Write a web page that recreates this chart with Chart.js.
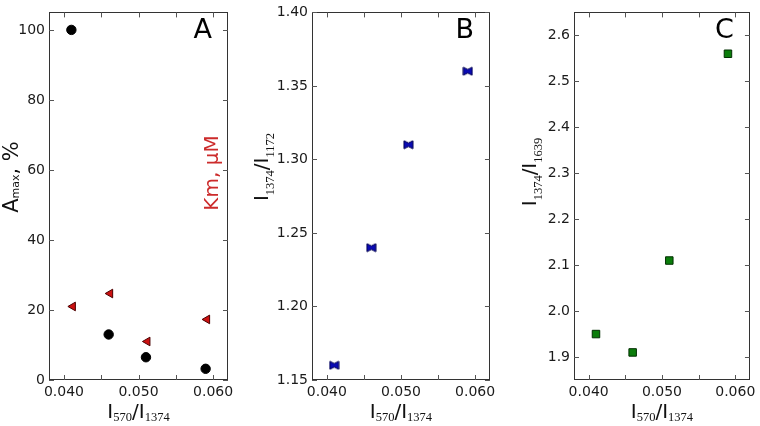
<!DOCTYPE html>
<html>
<head>
<meta charset="utf-8">
<script src="https://cdn.jsdelivr.net/npm/chart.js@4.4.1/dist/chart.umd.min.js"></script>
<style>
  html, body { margin: 0; padding: 0; background: #fff; }
  #wrap { position: relative; width: 760px; height: 426px; }
  canvas { position: absolute; top: 0; }
</style>
</head>
<body>
<div id="wrap">
  <canvas id="panelA" width="250" height="426" style="left:0px"></canvas>
  <canvas id="panelB" width="250" height="426" style="left:250px"></canvas>
  <canvas id="panelC" width="260" height="426" style="left:500px"></canvas>
</div>
<script>
// shared x values (I570/I1374)
var ratioX = [0.041, 0.046, 0.051, 0.059];

// panel A
var amaxVals = [100, 13, 6.5, 3.2];
var kmVals = [21, 24.7, 11, 17.3];
var ticksA = [0, 20, 40, 60, 80, 100];

// panel B
var i1172Vals = [1.16, 1.24, 1.31, 1.36];
var ticksB = [1.15, 1.20, 1.25, 1.30, 1.35, 1.40];

// panel C
var i1639Vals = [1.95, 1.91, 2.11, 2.56];
var ticksC = [1.9, 2.0, 2.1, 2.2, 2.3, 2.4, 2.5, 2.6];

var xTickVals = [0.040, 0.045, 0.050, 0.055, 0.060];

function toPoints(xs, ys) {
  return xs.map(function (x, i) { return { x: x, y: ys[i] }; });
}

var SANS = '"DejaVu Sans", sans-serif';
var SERIF = '"Liberation Serif", "DejaVu Serif", serif';

// little bow-tie marker used in panel B
function bowtie() {
  var c = document.createElement('canvas');
  c.width = 11; c.height = 10;
  var g = c.getContext('2d');
  g.beginPath();
  g.moveTo(1, 1); g.lineTo(5.5, 3.2); g.lineTo(10, 1);
  g.lineTo(10, 9); g.lineTo(5.5, 6.8); g.lineTo(1, 9);
  g.closePath();
  g.fillStyle = '#0a0ab4';
  g.fill();
  g.strokeStyle = '#000050';
  g.lineWidth = 1;
  g.stroke();
  return c;
}

function drawRich(ctx, segs, cx, cy, rot) {
  ctx.save();
  ctx.translate(cx, cy);
  if (rot) ctx.rotate(-Math.PI / 2);
  var total = 0;
  segs.forEach(function (s) { ctx.font = s.font; s.w = ctx.measureText(s.t).width; total += s.w; });
  var x = -total / 2;
  ctx.textAlign = 'left';
  ctx.textBaseline = 'alphabetic';
  segs.forEach(function (s) {
    ctx.font = s.font;
    ctx.fillStyle = s.color || '#111';
    ctx.fillText(s.t, x, s.dy || 0);
    x += s.w;
  });
  ctx.restore();
}

var xTitle = [
  { t: 'I', font: '20px ' + SANS },
  { t: '570', font: '12.5px ' + SERIF, dy: 3 },
  { t: '/', font: '20px ' + SANS },
  { t: 'I', font: '20px ' + SANS },
  { t: '1374', font: '12.5px ' + SERIF, dy: 3 }
];

// frame, inward ticks, titles, panel letter
var decor = {
  id: 'decor',
  afterDraw: function (chart, args, o) {
    var ctx = chart.ctx, ca = chart.chartArea;
    var xs = chart.scales.x, ys = chart.scales.y;
    ctx.save();
    ctx.strokeStyle = '#333';
    ctx.lineWidth = 1;
    ctx.strokeRect(Math.round(ca.left) + 0.5, Math.round(ca.top) + 0.5,
      Math.round(ca.right - ca.left) - 1, Math.round(ca.bottom - ca.top) - 1);
    ctx.strokeStyle = '#555';
    ctx.beginPath();
    xs.ticks.forEach(function (t) {
      var px = Math.round(xs.getPixelForValue(t.value)) + 0.5;
      ctx.moveTo(px, ca.bottom); ctx.lineTo(px, ca.bottom - 5);
      ctx.moveTo(px, ca.top); ctx.lineTo(px, ca.top + 5);
    });
    ys.ticks.forEach(function (t) {
      var py = Math.round(ys.getPixelForValue(t.value)) + 0.5;
      ctx.moveTo(ca.left, py); ctx.lineTo(ca.left + 5, py);
      ctx.moveTo(ca.right, py); ctx.lineTo(ca.right - 5, py);
    });
    ctx.stroke();

    drawRich(ctx, xTitle, (ca.left + ca.right) / 2, 418, false);
    drawRich(ctx, o.yTitle, o.yTitleX, o.yTitleY, true);

    ctx.font = '27px ' + SANS;
    ctx.fillStyle = '#000';
    ctx.textAlign = 'right';
    ctx.textBaseline = 'alphabetic';
    ctx.fillText(o.letter, ca.right - 16, 38);

    if (o.extra) drawRich(ctx, o.extra.segs, o.extra.x, o.extra.y, true);
    ctx.restore();
  }
};

function makeChart(id, datasets, yMin, yMax, yStep, yDigits, area, deco) {
  return new Chart(document.getElementById(id), {
    type: 'scatter',
    data: { datasets: datasets },
    plugins: [decor],
    options: {
      responsive: false,
      animation: false,
      devicePixelRatio: 1,
      layout: { padding: { left: 0, right: area.padRight, top: area.top, bottom: 0 } },
      plugins: { legend: { display: false }, tooltip: { enabled: false }, decor: deco },
      scales: {
        x: {
          type: 'linear', min: 0.038, max: 0.062,
          afterBuildTicks: function (s) { s.ticks = xTickVals.map(function (v) { return { value: v }; }); },
          afterFit: function (s) { s.height = 46; },
          grid: { display: false, drawTicks: false },
          border: { display: false },
          ticks: {
            autoSkip: false, maxRotation: 0, padding: 4, color: '#1a1a1a',
            font: { family: SANS, size: 14 },
            callback: function (v) {
              var k = v * 100;
              return Math.abs(k - Math.round(k)) < 1e-6 ? v.toFixed(3) : '';
            }
          }
        },
        y: {
          type: 'linear', min: yMin, max: yMax,
          afterBuildTicks: function (s) { s.ticks = yStep.map(function (v) { return { value: v }; }); },
          afterFit: function (s) { s.width = area.left; },
          grid: { display: false, drawTicks: false },
          border: { display: false },
          ticks: {
            padding: 4, color: '#1a1a1a',
            font: { family: SANS, size: 14 },
            callback: function (v) { return v.toFixed(yDigits); }
          }
        }
      }
    }
  });
}

makeChart('panelA', [
  {
    data: toPoints(ratioX, amaxVals), pointStyle: 'circle', pointRadius: 4.7,
    backgroundColor: '#000', borderColor: '#000', borderWidth: 1
  },
  {
    data: toPoints(ratioX.map(function (x) { return x + 0.0002; }), kmVals), pointStyle: 'triangle',
    pointRotation: -90, pointRadius: 5, backgroundColor: '#cc1111', borderColor: '#4a0000', borderWidth: 1
  }
], 0, 105, ticksA, 0, { left: 49, padRight: 22, top: 6 }, {
  letter: 'A', yTitleX: 18, yTitleY: 177,
  yTitle: [
    { t: 'A', font: '21px ' + SANS },
    { t: 'max', font: '11px ' + SANS, dy: 1 },
    { t: ', %', font: '21px ' + SANS }
  ],
  extra: { x: 218, y: 173, segs: [{ t: 'Km, \u00b5M', font: '20px ' + SANS, color: '#cc2b2b' }] }
});

makeChart('panelB', [
  {
    data: toPoints(ratioX, i1172Vals), pointStyle: bowtie(), pointRadius: 5,
    backgroundColor: '#0a0ab4', borderColor: '#000050'
  }
], 1.15, 1.40, ticksB, 2, { left: 62, padRight: 10, top: 7 }, {
  letter: 'B', yTitleX: 18, yTitleY: 167,
  yTitle: [
    { t: 'I', font: '20px ' + SANS },
    { t: '1374', font: '12.5px ' + SERIF, dy: 6 },
    { t: '/', font: '20px ' + SANS },
    { t: 'I', font: '20px ' + SANS },
    { t: '1172', font: '12.5px ' + SERIF, dy: 6 }
  ]
});

makeChart('panelC', [
  {
    data: toPoints(ratioX, i1639Vals), pointStyle: 'rect', pointRadius: 5.3,
    backgroundColor: '#0b7d0b', borderColor: '#023002', borderWidth: 1
  }
], 1.85, 2.65, ticksC, 1, { left: 74, padRight: 8, top: 7 }, {
  letter: 'C', yTitleX: 36, yTitleY: 172,
  yTitle: [
    { t: 'I', font: '20px ' + SANS },
    { t: '1374', font: '12.5px ' + SERIF, dy: 6 },
    { t: '/', font: '20px ' + SANS },
    { t: 'I', font: '20px ' + SANS },
    { t: '1639', font: '12.5px ' + SERIF, dy: 6 }
  ]
});
</script>
</body>
</html>
